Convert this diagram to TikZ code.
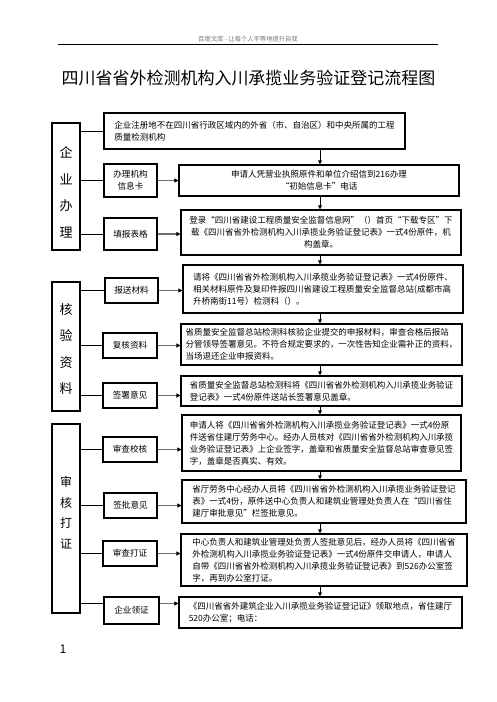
\documentclass[tikz,border=0pt]{standalone}
\usepackage{fontspec}
\newfontfamily\cjk{Noto Sans CJK SC}
\usepackage{xcolor}
\definecolor{headgray}{HTML}{777777}
\definecolor{arrowgray}{HTML}{6E6E6E}
\usetikzlibrary{arrows.meta,positioning,calc}

\begin{document}
\begin{tikzpicture}[x=1pt,y=-1pt,
    groupbox/.style={draw, line width=1.1pt, minimum width=28pt, inner sep=0pt},
    grouptext/.style={align=center, inner sep=0pt, font=\cjk\fontsize{13}{26.5}\selectfont},
    stepbox/.style={draw, line width=1.1pt, minimum width=54pt, minimum height=25pt, inner sep=1pt, align=center, font=\cjk\fontsize{8.6}{12}\selectfont},
    textbox/.style={draw, line width=1.1pt, inner sep=0pt, align=left, font=\cjk\fontsize{8.5}{12}\selectfont},
    link/.style={line width=0.9pt},
    harrow/.style={arrowgray, line width=1.6pt, -{Triangle[length=4pt,width=4pt,color=black]}},
    varrow/.style={line width=0.9pt, -{Triangle[length=4pt,width=3.6pt]}}]
  \useasboundingbox (0,0) rectangle (496,702);
  % Header and title
  \node[font=\cjk\fontsize{6.3}{7}\selectfont, text=headgray] (head) at (248,39) {百度文库 - 让每个人平等地提升自我};
  \draw[line width=0.8pt] (58,44) -- (438,44);
  \node[font=\cjk\fontsize{17}{20}\selectfont] (title) at (248.5,78) {四川省省外检测机构入川承揽业务验证登记流程图};
  % Groups
  \node[groupbox, minimum height=127pt] (g1) at (66,186.5) {};
  \node[groupbox, minimum height=129pt] (g2) at (66,346.5) {};
  \node[groupbox, minimum height=189pt] (g3) at (66,518.5) {};
  \node[grouptext] (g1t) at (66,192.5) {企\\业\\办\\理};
  \node[grouptext] (g2t) at (66,349) {核\\验\\资\\料};
  \node[grouptext, font=\cjk\fontsize{12}{20.5}\selectfont] (g3t) at (66,512.5) {审\\核\\打\\证};
  % Steps
  \node[stepbox, minimum width=53pt, minimum height=33pt] (s1) at (130.5,180.5) {办理机构\\信息卡};
  \node[stepbox, minimum width=53pt, minimum height=32pt] (s2) at (130.5,234) {填报表格};
  \node[stepbox, minimum width=53pt] (s3) at (131.5,290.5) {报送材料};
  \node[stepbox] (s4) at (130,345.5) {复核资料};
  \node[stepbox] (s5) at (130,395.5) {签署意见};
  \node[stepbox] (s6) at (130,449.5) {审查校核};
  \node[stepbox, minimum width=53pt] (s7) at (130.5,505.5) {签批意见};
  \node[stepbox] (s8) at (130,553.5) {审查打证};
  \node[stepbox, minimum width=55pt, minimum height=27pt] (s9) at (131.5,610.5) {企业领证};
  % Texts
  \node[textbox, minimum width=301pt, minimum height=36pt] (b0) at (254.5,131) {企业注册地不在四川省行政区域内的外省（市、自治区）和中央所属的工程\\质量检测机构};
  \node[textbox, minimum width=280pt, minimum height=31pt, align=center] (b1) at (319,180.5) {申请人凭营业执照原件和单位介绍信到216办理\\“初始信息卡”电话};
  \node[textbox, minimum width=280pt, minimum height=45pt, align=center] (b2) at (321,232.5) {登录“四川省建设工程质量安全监督信息网”（）首页“下载专区”下\\载《四川省省外检测机构入川承揽业务验证登记表》一式4份原件，机\\构盖章。};
  \node[textbox, minimum width=280pt, minimum height=48pt] (b3) at (323,289) {请将《四川省省外检测机构入川承揽业务验证登记表》一式4份原件、\\相关材料原件及复印件报四川省建设工程质量安全监督总站(成都市高\\升桥南街11号）检测科（）。};
  \node[textbox, minimum width=281pt, minimum height=41pt] (b4) at (321.5,344.5) {省质量安全监督总站检测科核验企业提交的申报材料，审查合格后报站\\分管领导签署意见。不符合规定要求的，一次性告知企业需补正的资料，\\当场退还企业申报资料。};
  \node[textbox, minimum width=281pt, minimum height=30pt] (b5) at (321.5,391) {省质量安全监督总站检测科将《四川省省外检测机构入川承揽业务验证\\登记表》一式4份原件送站长签署意见盖章。};
  \node[textbox, minimum width=279pt, minimum height=56pt] (b6) at (321.5,443) {申请人将《四川省省外检测机构入川承揽业务验证登记表》一式4份原\\件送省住建厅劳务中心。经办人员核对《四川省省外检测机构入川承揽\\业务验证登记表》上企业签字，盖章和省质量安全监督总站审查意见签\\字，盖章是否真实、有效。};
  \node[textbox, minimum width=284pt, minimum height=43pt] (b7) at (324,501.5) {省厅劳务中心经办人员将《四川省省外检测机构入川承揽业务验证登记\\表》一式4份，原件送中心负责人和建筑业管理处负责人在“四川省住\\建厅审批意见”栏签批意见。};
  \node[textbox, minimum width=286pt, minimum height=52pt] (b8) at (324,560) {中心负责人和建筑业管理处负责人签批意见后，经办人员将《四川省省\\外检测机构入川承揽业务验证登记表》一式4份原件交申请人，申请人\\自带《四川省省外检测机构入川承揽业务验证登记表》到526办公室签\\字，再到办公室打证。};
  \node[textbox, minimum width=283pt, minimum height=31pt] (b9) at (320.5,612.5) {《四川省省外建筑企业入川承揽业务验证登记证》领取地点，省住建厅\\520办公室；电话：};
  % Page number
  \node[font=\cjk\fontsize{12}{14}\selectfont] (page) at (63,649) {1};
  % Group links
  \foreach \g/\s in {g1/b0,g1/s1,g1/s2,g2/s3,g2/s4,g2/s5,g3/s6,g3/s7,g3/s8}
    \draw[link] (\s.west -| \g.east) -- (\s.west);
  \draw[link] ([yshift=7pt]s9.west -| g3.east) -- ([yshift=7pt]s9.west);
  % Step arrows
  \foreach \s/\b in {s1/b1,s2/b2,s3/b3,s4/b4,s5/b5,s6/b6,s7/b7,s8/b8}
    \draw[harrow] (\s.east) -- (\s.east -| \b.west);
  \draw[harrow] ([yshift=7pt]s9.east) -- ([yshift=7pt]s9.east -| b9.west);
  % Flow arrows
  \coordinate (axis) at (320,0);
  \foreach \a/\b in {b0/b1,b1/b2,b2/b3,b3/b4,b4/b5,b5/b6,b6/b7,b7/b8,b8/b9}
    \draw[varrow] (axis |- \a.south) -- (axis |- \b.north);
\end{tikzpicture}
\end{document}
